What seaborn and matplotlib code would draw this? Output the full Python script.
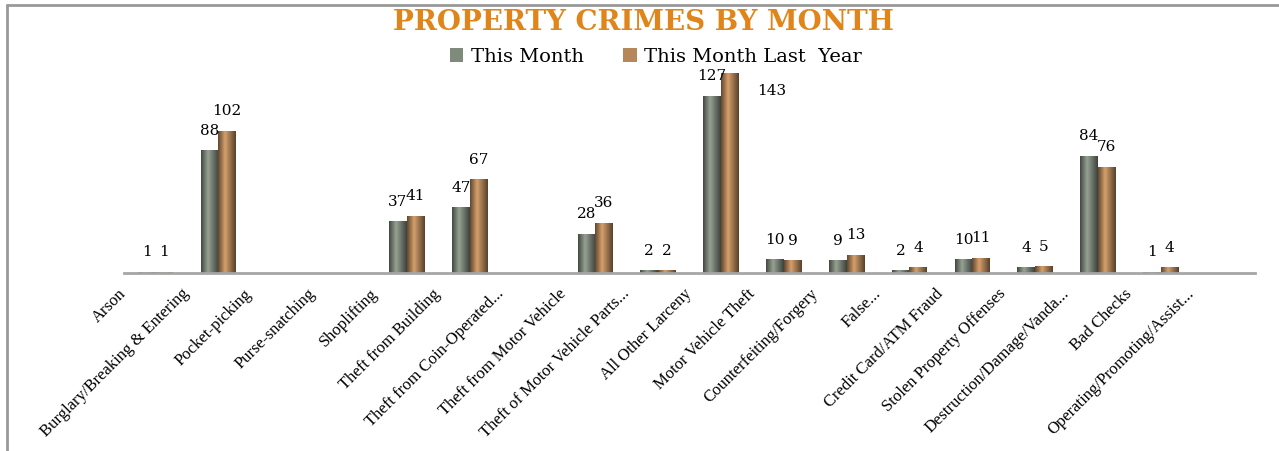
import numpy as np
import pandas as pd
import seaborn as sns
import matplotlib
matplotlib.use("Agg")
import matplotlib.pyplot as plt
import matplotlib.transforms as mtransforms
from matplotlib.lines import Line2D
from matplotlib.colors import to_rgb

categories = ["Arson", "Burglary/Breaking & Entering", "Pocket-picking", "Purse-snatching",
              "Shoplifting", "Theft from Building", "Theft from Coin-Operated...",
              "Theft from Motor Vehicle", "Theft of Motor Vehicle Parts...", "All Other Larceny",
              "Motor Vehicle Theft", "Counterfeiting/Forgery", "False...", "Credit Card/ATM Fraud",
              "Stolen Property Offenses", "Destruction/Damage/Vanda...", "Bad Checks",
              "Operating/Promoting/Assist..."]
this_month = [1, 88, 0, 0, 37, 47, 0, 28, 2, 127, 10, 9, 2, 10, 4, 84, 1, 0]
last_year = [1, 102, 0, 0, 41, 67, 0, 36, 2, 143, 9, 13, 4, 11, 5, 76, 4, 0]
series = ["This Month", "This Month Last  Year"]
colors = ["#7e8b7a", "#c4874c"]

df = pd.DataFrame({
    "category": categories * 2,
    "count": this_month + last_year,
    "series": [series[0]] * len(categories) + [series[1]] * len(categories),
})

sns.set_style("white")
plt.rcParams["font.family"] = ["DejaVu Serif"]
plt.rcParams["text.color"] = "black"
plt.rcParams["xtick.color"] = "black"

fig = plt.figure(figsize=(12.79, 4.51), dpi=100)
ax = fig.add_axes([124 / 1279, 178 / 451, 1131 / 1279, 215 / 451])

sns.barplot(data=df, x="category", y="count", hue="series", palette=colors,
            width=0.56, gap=0, dodge=True, ax=ax, edgecolor="none", linewidth=0,
            legend=True)

sns.despine(ax=ax, left=True, top=True, right=True)
ax.spines["bottom"].set_color("#a6a6a6")
ax.spines["bottom"].set_linewidth(2)
ax.set_yticks([])
ax.set_xlabel("")
ax.set_ylabel("")
ax.tick_params(axis="x", length=0, pad=2, labelcolor="black")

# cylinder-like shading on each bar
shade = np.concatenate([np.linspace(0.55, 1.15, 8), np.linspace(1.15, 0.5, 12)])
for cont in ax.containers:
    for patch in cont.patches:
        x0, y0 = patch.get_x(), patch.get_y()
        w, h = patch.get_width(), patch.get_height()
        if h <= 0:
            continue
        base = np.array(to_rgb(patch.get_facecolor()))
        img = np.clip(base[None, None, :] * shade[None, :, None], 0, 1)
        im = ax.imshow(img, extent=[x0, x0 + w, y0, y0 + h], aspect="auto",
                       interpolation="bilinear", zorder=patch.get_zorder() + 0.1)
        im.set_clip_path(patch)
ax.set_xlim(-0.5, len(categories) - 0.5)
ax.set_ylim(0, 154)

ax.set_xticks(range(len(categories)))
ax.set_xticklabels(categories, rotation=45, ha="right", rotation_mode="anchor",
                   fontsize=12, fontfamily="Liberation Serif")
offset = mtransforms.ScaledTranslation(-37 / 100, -10 / 100, fig.dpi_scale_trans)
for lbl in ax.get_xticklabels():
    lbl.set_transform(lbl.get_transform() + offset)

top = max(last_year)
for cont in ax.containers:
    labels = [f"{int(v)}" if v > 0 else "" for v in cont.datavalues]
    anns = ax.bar_label(cont, labels=labels, padding=9, fontsize=11, color="black")
    for ann, v in zip(anns, cont.datavalues):
        if v == top:
            ann.xyann = (30, -18)

ax.legend(loc="center", bbox_to_anchor=(656 / 1279, 1 - 57 / 451),
          bbox_transform=fig.transFigure, ncol=2, frameon=False,
          fontsize=14, handlelength=0.7, handleheight=0.7, columnspacing=2.0,
          handletextpad=0.4)

fig.text(0.503, 1 - 23 / 451, "PROPERTY CRIMES BY MONTH", ha="center", va="center",
         fontsize=20, fontweight="bold", color="#e0851a")

fig.add_artist(Line2D([7 / 1279, 1], [1 - 5 / 451, 1 - 5 / 451], transform=fig.transFigure,
                      color="#999999", lw=2))
fig.add_artist(Line2D([7 / 1279, 7 / 1279], [0, 1 - 5 / 451], transform=fig.transFigure,
                      color="#999999", lw=2))

fig.savefig("out.png", dpi=100)
